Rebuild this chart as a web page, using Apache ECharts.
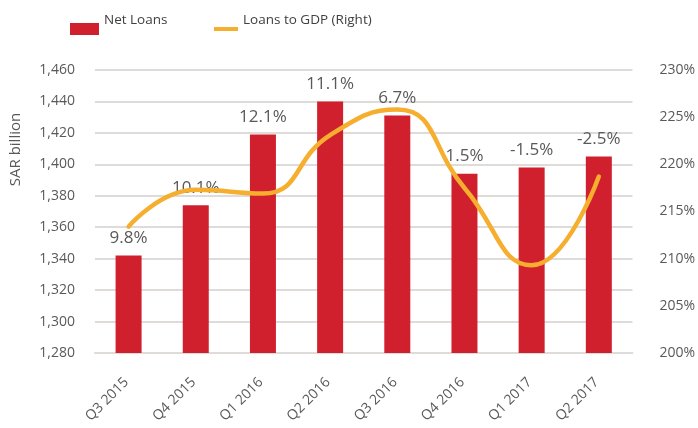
<!DOCTYPE html>
<html>
<head>
<meta charset="utf-8">
<script src="https://cdn.jsdelivr.net/npm/echarts@6/dist/echarts.min.js"></script>
<style>
  html, body { margin: 0; padding: 0; background: #fff; }
  #chart { width: 698px; height: 428px; }
</style>
</head>
<body>
<div id="chart"></div>
<script>
    // quarters on the x axis
    var quarters = ['Q3 2015', 'Q4 2015', 'Q1 2016', 'Q2 2016', 'Q3 2016', 'Q4 2016', 'Q1 2017', 'Q2 2017'];
    // net loans, SAR billion (left axis)
    var netLoans = [1342, 1374, 1419, 1440, 1431, 1394, 1398, 1405];
    // loans to GDP, % (right axis)
    var loansToGdp = [213.4, 217.3, 216.9, 223.1, 225.8, 217.5, 209.3, 218.7];
    // yoy growth labels shown above the bars
    var growthLabels = ['9.8%', '10.1%', '12.1%', '11.1%', '6.7%', '1.5%', '-1.5%', '-2.5%'];

    var textColor = '#595959';
    var gridColor = '#dedbd9';
    var font = '"Open Sans", "Noto Sans", sans-serif';

    var chart = echarts.init(document.getElementById('chart'));

    // legend text sits above the icon (second line left blank)
    var legendText = { color: '#404040', fontSize: 13.5, lineHeight: 18 };
    function legendFmt(name) { return name + '\n '; }

    var option = {
        animation: false,
        textStyle: { fontFamily: font },
        legend: [
            {
                left: 65, top: 6,
                itemWidth: 29, itemHeight: 12, icon: 'rect',
                data: ['Net Loans'],
                formatter: legendFmt,
                textStyle: legendText
            },
            {
                left: 209, top: 6,
                itemWidth: 24, itemHeight: 4, icon: 'rect',
                data: ['Loans to GDP (Right)'],
                formatter: legendFmt,
                textStyle: legendText
            }
        ],
        grid: { left: 93, right: 65, top: 70, bottom: 75 },
        xAxis: {
            type: 'category',
            data: quarters,
            axisLine: { lineStyle: { color: gridColor, width: 2 } },
            axisTick: { show: false },
            axisLabel: { rotate: 45, color: textColor, fontSize: 14, margin: 25, padding: [44, 3, 0, 0] }
        },
        yAxis: [
            {
                type: 'value',
                min: 1280, max: 1460, interval: 20,
                name: 'SAR billion',
                nameLocation: 'middle',
                nameRotate: 90,
                nameGap: 72,
                nameTextStyle: { color: textColor, fontSize: 15, padding: [0, 0, 0, 124] },
                axisLine: { show: false },
                axisTick: { show: false },
                splitLine: { lineStyle: { color: gridColor, width: 2 } },
                axisLabel: {
                    color: textColor, fontSize: 14, margin: 20,
                    formatter: function (v) { return v.toLocaleString('en-US'); }
                }
            },
            {
                type: 'value',
                min: 200, max: 230, interval: 5,
                axisLine: { show: false },
                axisTick: { show: false },
                splitLine: { show: false },
                axisLabel: { color: textColor, fontSize: 14, margin: 27, formatter: '{value}%' }
            }
        ],
        series: [
            {
                name: 'Net Loans',
                type: 'bar',
                barWidth: 26,
                itemStyle: { color: '#d0202e' },
                label: {
                    show: true,
                    position: 'top',
                    distance: 9,
                    color: textColor,
                    fontSize: 17,
                    formatter: function (p) { return growthLabels[p.dataIndex]; }
                },
                data: netLoans
            },
            {
                name: 'Loans to GDP (Right)',
                type: 'line',
                yAxisIndex: 1,
                smooth: true,
                showSymbol: false,
                symbol: 'none',
                itemStyle: { color: '#f5ae2e' },
                lineStyle: { color: '#f5ae2e', width: 4.5, cap: 'round' },
                data: loansToGdp
            }
        ]
    };

    chart.setOption(option);
</script>
</body>
</html>
